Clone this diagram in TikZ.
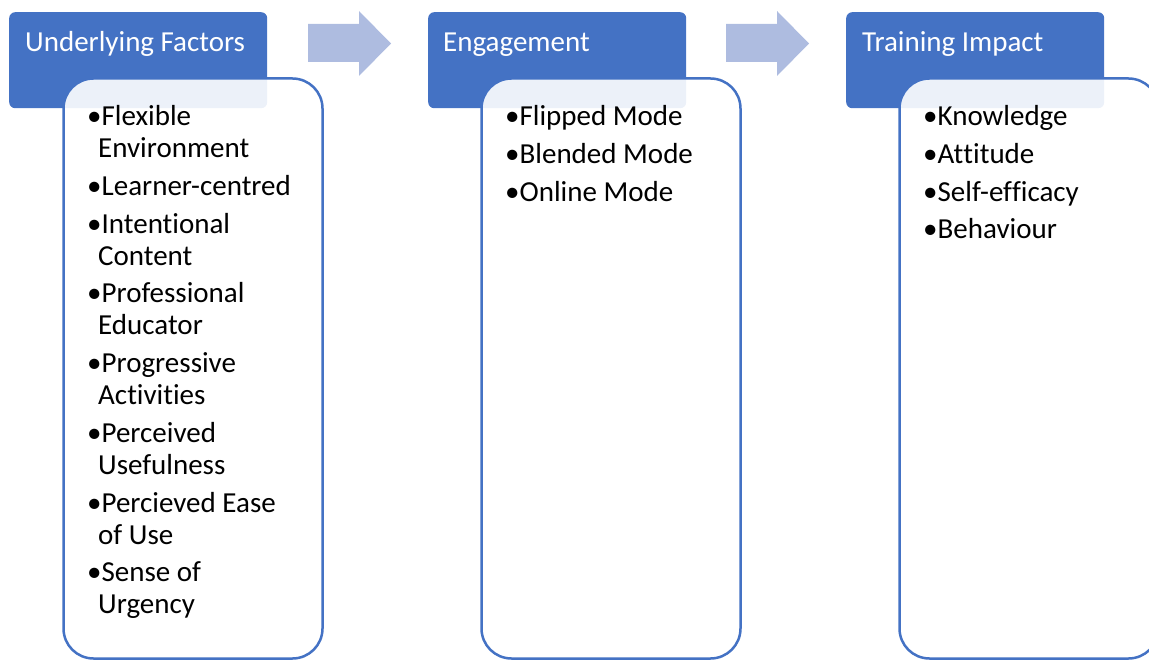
\documentclass[tikz,border=0pt]{standalone}
\usepackage{fontspec}
\setmainfont{Carlito}[Ligatures={NoCommon,NoContextual,NoRequired}]
\definecolor{hdr}{HTML}{4472C4}
\definecolor{arr}{HTML}{AEBCE0}
\newcommand\nolig{\kern0pt{}}
\begin{document}
\begin{tikzpicture}[x=1pt,y=-1pt,
  hdrbox/.style={fill=hdr, draw=none, rounded corners=6pt, inner sep=0pt,
    minimum width=258pt, minimum height=96pt, anchor=north west},
  cbox/.style={draw=hdr, line width=2.5pt, fill=white, fill opacity=0.9,
    rounded corners=30pt, inner sep=0pt, minimum width=259pt, minimum height=580pt,
    anchor=north west},
  hdrtext/.style={anchor=base west, inner sep=0pt, text=white,
    font=\fontsize{29}{32}\selectfont},
  itm/.style={anchor=base west, inner sep=0pt, text=black,
    font=\fontsize{29}{32}\selectfont},
  flow/.style={fill=arr, draw=none}
]
\useasboundingbox (0,0) rectangle (1149,660);
\clip (0,0) rectangle (1149,660);

% headers
\node[hdrbox] (h1) at (9,12) {};
\node[hdrbox] (h2) at (428,12) {};
\node[hdrbox] (h3) at (846,12) {};

% content boxes
\node[cbox] (c1) at (62.25,77.25) {};
\node[cbox] (c2) at (480.25,77.25) {};
\node[cbox] (c3) at (898.25,77.25) {};

% header texts
\node[hdrtext] (t1) at (25,51.5) {Underlying Factors};
\node[hdrtext] (t2) at (443,51.5) {Engagement};
\node[hdrtext] (t3) at (862,51.5) {Training Impact};

% arrows
\fill[flow] (308,24) -- (359,24) -- (359,11) -- (391,43.5) -- (359,76) -- (359,62) -- (308,62) -- cycle;
\fill[flow] (726,24) -- (777,24) -- (777,11) -- (809,43.5) -- (777,76) -- (777,62) -- (726,62) -- cycle;

% column 1
\node[itm] (a1) at (87,125.5) {\textbullet Flexible};
\node[itm] (a1b) at (98,157.5) {Environment};
\node[itm] (a2) at (87,195.5) {\textbullet Learner-centred};
\node[itm] (a3) at (87,233.5) {\textbullet Intent\nolig ional};
\node[itm] (a3b) at (98,265.5) {Content};
\node[itm] (a4) at (87,302.5) {\textbullet Professional};
\node[itm] (a4b) at (98,334.5) {Educator};
\node[itm] (a5) at (87,372.5) {\textbullet Progressive};
\node[itm] (a5b) at (98,404.5) {Act\nolig ivit\nolig ies};
\node[itm] (a6) at (87,442.5) {\textbullet Perceived};
\node[itm] (a6b) at (98,474.5) {Usefulness};
\node[itm] (a7) at (87,512.5) {\textbullet Percieved Ease};
\node[itm] (a7b) at (98,544.5) {of Use};
\node[itm] (a8) at (87,581.5) {\textbullet Sense of};
\node[itm] (a8b) at (98,613.5) {Urgency};

% column 2
\node[itm] (b1) at (505,125.5) {\textbullet Flipped Mode};
\node[itm] (b2) at (505,163.5) {\textbullet Blended Mode};
\node[itm] (b3) at (505,201.5) {\textbullet Online Mode};

% column 3
\node[itm] (d1) at (923,125.5) {\textbullet Knowledge};
\node[itm] (d2) at (923,163.5) {\textbullet At\nolig t\nolig itude};
\node[itm] (d3) at (923,201.5) {\textbullet Self-ef\nolig f\nolig icacy};
\node[itm] (d4) at (923,238.5) {\textbullet Behaviour};
\end{tikzpicture}
\end{document}
